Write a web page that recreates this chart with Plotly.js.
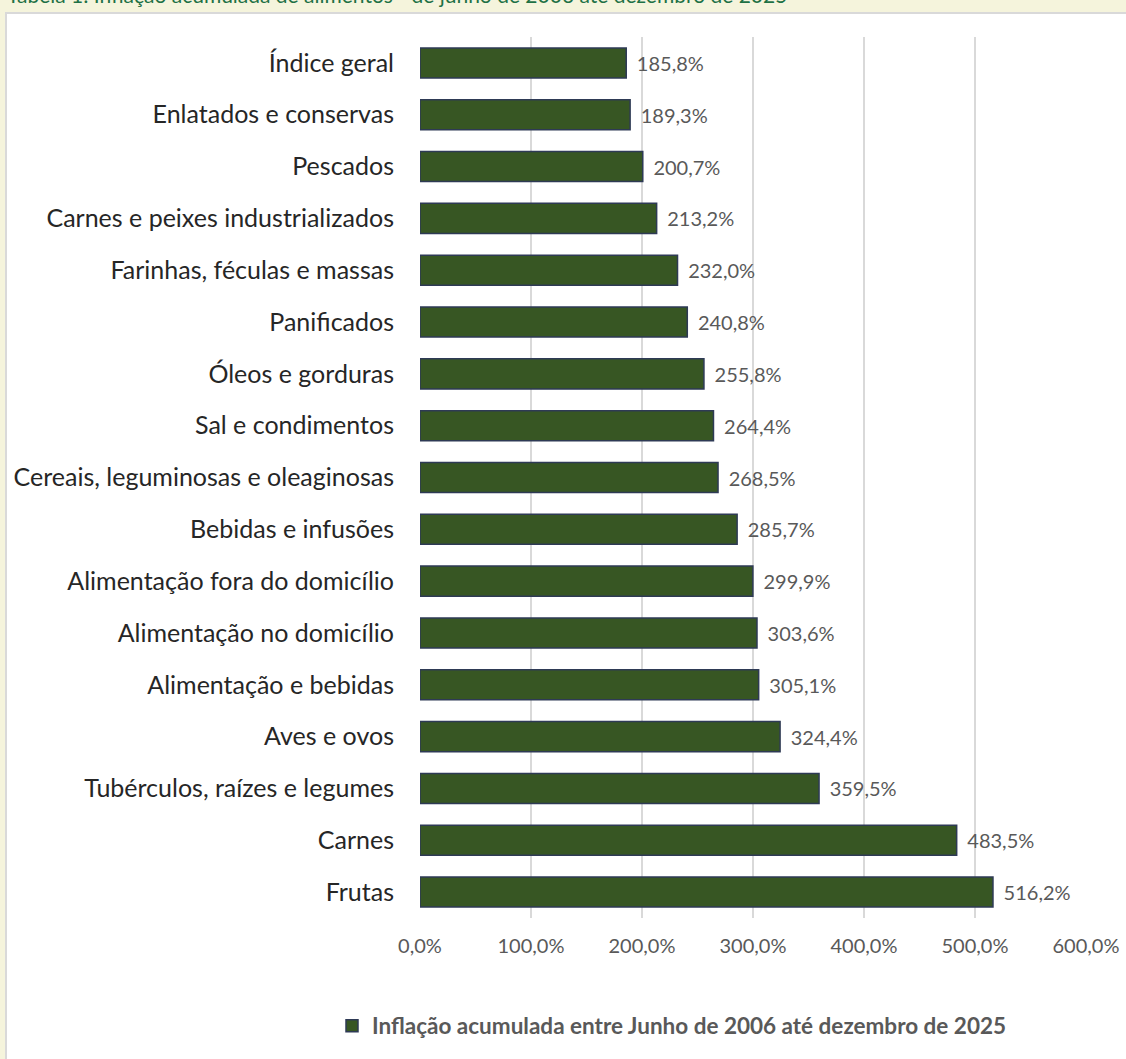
<!DOCTYPE html>
<html>
<head>
<meta charset="utf-8">
<script src="https://cdn.plot.ly/plotly-3.0.1.min.js"></script>
<style>
html,body{margin:0;padding:0;background:#f5f4dc;}
#chart{width:1126px;height:1059px;}
</style>
</head>
<body>
<div id="chart"></div>
<script>
const categories = [
  "Índice geral",
  "Enlatados e conservas",
  "Pescados",
  "Carnes e peixes industrializados",
  "Farinhas, féculas e massas",
  "Panificados",
  "Óleos e gorduras",
  "Sal e condimentos",
  "Cereais, leguminosas e oleaginosas",
  "Bebidas e infusões",
  "Alimentação fora do domicílio",
  "Alimentação no domicílio",
  "Alimentação e bebidas",
  "Aves e ovos",
  "Tubérculos, raízes e legumes",
  "Carnes",
  "Frutas"
];
const values = [185.8, 189.3, 200.7, 213.2, 232.0, 240.8, 255.8, 264.4, 268.5, 285.7, 299.9, 303.6, 305.1, 324.4, 359.5, 483.5, 516.2];
const seriesName = "Inflação acumulada entre Junho de 2006 até dezembro de 2025";
const pageTitle = "Tabela 1: Inflação acumulada de alimentos - de junho de 2006 até dezembro de 2025";

const labels = values.map(v => "\u00a0\u2009" + v.toFixed(1).replace('.', ',') + '%');

const W = 1126, H = 1059, L = 420, R = 40, T = 37, B = 141;
const pw = W - L - R, ph = H - T - B;
const px = x => (x - L) / pw;
const py = y => (H - B - y) / ph;

const trace = {
  type: 'bar',
  orientation: 'h',
  y: categories,
  x: values,
  name: seriesName,
  marker: {color: '#375623', line: {color: '#2e3a55', width: 1.5}},
  text: labels,
  textposition: 'outside',
  textfont: {family: 'Lato, sans-serif', size: 20, color: '#595959'},
  cliponaxis: false,
  hoverinfo: 'x+y'
};

const layout = {
  width: W, height: H,
  margin: {l: L, r: R, t: T, b: B},
  paper_bgcolor: '#f5f4dc',
  plot_bgcolor: 'rgba(0,0,0,0)',
  separators: ',.',
  bargap: 0.42,
  showlegend: true,
  font: {family: 'Lato, sans-serif', color: '#262626'},
  xaxis: {
    range: [0, 600],
    dtick: 100,
    tickformat: '.1f',
    ticksuffix: '%',
    showgrid: true,
    gridcolor: '#d9d9d9',
    gridwidth: 2,
    zeroline: false,
    showline: false,
    ticks: '',
    ticklabelstandoff: 14,
    tickfont: {family: 'Lato, sans-serif', size: 20, color: '#595959'}
  },
  yaxis: {
    autorange: 'reversed',
    showgrid: false,
    zeroline: false,
    showline: false,
    ticks: '',
    ticklabelstandoff: 25,
    tickfont: {family: 'Lato, sans-serif', size: 25, color: '#262626'}
  },
  legend: {
    orientation: 'h',
    x: px(672), xanchor: 'center',
    y: py(1026), yanchor: 'middle',
    font: {family: 'Lato, sans-serif', size: 22.5, color: '#595959', weight: 'bold'},
    bgcolor: 'rgba(0,0,0,0)'
  },
  shapes: [{
    type: 'rect', layer: 'below',
    xref: 'paper', yref: 'paper',
    x0: px(6), x1: px(1140), y0: py(1080), y1: py(13),
    fillcolor: '#ffffff',
    line: {color: '#d9d9d9', width: 2}
  }],
  annotations: [{
    xref: 'paper', yref: 'paper',
    x: px(5), xanchor: 'left',
    y: py(9), yanchor: 'bottom',
    text: pageTitle,
    showarrow: false,
    font: {family: 'Lato, sans-serif', size: 21, color: '#1e7145'}
  }]
};

Plotly.newPlot('chart', [trace], layout, {displayModeBar: false, staticPlot: true});
</script>
</body>
</html>
